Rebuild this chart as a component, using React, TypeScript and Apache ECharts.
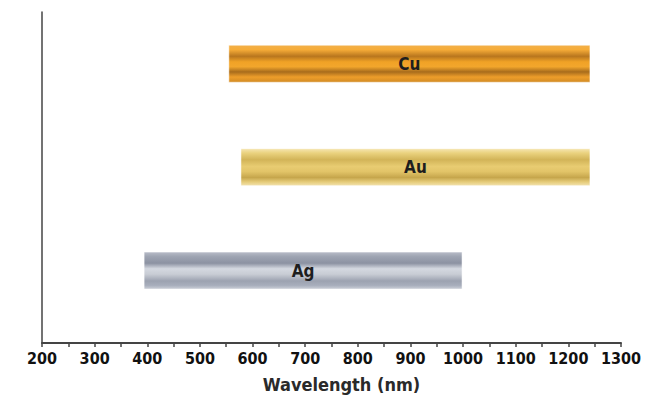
import React, { useEffect, useRef } from "react";
import * as echarts from "echarts";

const metals = ["Ag", "Au", "Cu"];
const startNm = [394, 578, 555];
const endNm = [998, 1241, 1241];
const rowPos = [0.7, 1.7, 2.7];
const xTicks = [200, 300, 400, 500, 600, 700, 800, 900, 1000, 1100, 1200, 1300];

const gradients: Record<string, [number, string][]> = {
  Cu: [
    [0, "#f2b04a"], [0.12, "#f6ac38"], [0.3, "#b8761e"], [0.45, "#f0a226"],
    [0.58, "#f2a62c"], [0.72, "#a86c1c"], [0.86, "#ee9e2a"], [1, "#d18a24"],
  ],
  Au: [
    [0, "#f6e6b2"], [0.12, "#ead27e"], [0.3, "#d2b458"], [0.48, "#e8cc72"],
    [0.62, "#e2c468"], [0.78, "#c6a64c"], [0.9, "#e6cc7a"], [1, "#f2e2ae"],
  ],
  Ag: [
    [0, "#b8bcc8"], [0.12, "#9ea4b2"], [0.3, "#8c92a2"], [0.45, "#d4d8e0"],
    [0.6, "#c8ccd4"], [0.78, "#9ca2b0"], [0.9, "#a8aebc"], [1, "#ccd0d8"],
  ],
};

const FONT = "'Liberation Sans Narrow', 'Arial Narrow', 'DejaVu Sans Condensed', 'Liberation Sans', sans-serif";

export default function App() {
  const ref = useRef<HTMLDivElement>(null);
  useEffect(() => {
    if (!ref.current) return;
    const chart = echarts.init(ref.current, null, { renderer: "svg" });
    const data = metals.map((m, i) => [startNm[i], endNm[i], rowPos[i], i]);
    chart.setOption({
      animation: false,
      backgroundColor: "#ffffff",
      grid: { left: 42, right: 36, top: 12, bottom: 55 },
      xAxis: {
        type: "value",
        min: 200,
        max: 1300,
        interval: 100,
        name: "Wavelength (nm)",
        nameLocation: "middle",
        nameGap: 32,
        nameTextStyle: { fontFamily: FONT, fontWeight: "bold", fontSize: 18, color: "#2a2a2a", padding: [0, 0, 0, 20] },
        axisLine: { show: true, lineStyle: { color: "#444", width: 2 } },
        axisTick: { show: true, length: 4, lineStyle: { color: "#444", width: 1.5 } },
        minorTick: { show: true, splitNumber: 2, length: 4, lineStyle: { color: "#444", width: 1.5 } },
        splitLine: { show: false },
        axisLabel: {
          fontFamily: FONT, fontWeight: "bold", fontSize: 16, color: "#111", margin: 7,
          formatter: (v: number) => (xTicks.includes(v) ? String(v) : ""),
        },
      },
      yAxis: {
        type: "value",
        min: 0,
        max: 3.2,
        axisLine: { show: true, lineStyle: { color: "#444", width: 1.5 } },
        axisTick: { show: false },
        axisLabel: { show: false },
        splitLine: { show: false },
      },
      series: [
        {
          type: "custom",
          data,
          encode: { x: [0, 1], y: 2 },
          renderItem: (params: any, api: any) => {
            const idx = api.value(3);
            const name = metals[idx];
            const p0 = api.coord([api.value(0), api.value(2)]);
            const p1 = api.coord([api.value(1), api.value(2)]);
            const h = 37;
            const stops = gradients[name].map(([o, c]) => ({ offset: o, color: c }));
            return {
              type: "group",
              children: [
                {
                  type: "rect",
                  shape: { x: p0[0], y: p0[1] - h / 2, width: p1[0] - p0[0], height: h },
                  style: {
                    fill: new echarts.graphic.LinearGradient(0, 0, 0, 1, stops),
                    stroke: "rgba(255,255,255,0.5)",
                    lineWidth: 1,
                  },
                },
                {
                  type: "text",
                  style: {
                    text: name,
                    x: (p0[0] + p1[0]) / 2,
                    y: p0[1],
                    align: "center",
                    verticalAlign: "middle",
                    fontFamily: FONT,
                    fontWeight: "bold",
                    fontSize: 17,
                    fill: "#1e1e1e",
                  },
                },
              ],
            };
          },
        },
      ],
    });
    return () => chart.dispose();
  }, []);
  return <div ref={ref} style={{ width: 657, height: 398, position: "absolute", left: 0, top: 0 }} />;
}
